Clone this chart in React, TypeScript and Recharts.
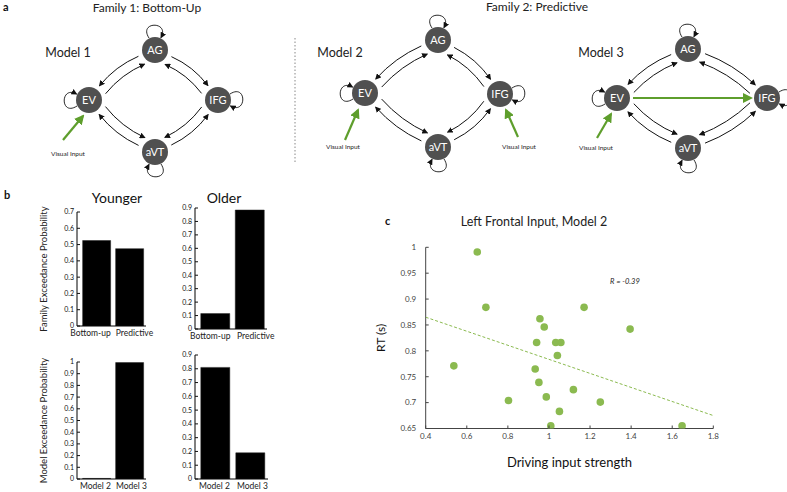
import { BarChart, Bar, XAxis, YAxis, ScatterChart, Scatter, ReferenceDot, Label } from 'recharts';

// panel b
const FAMILY_CATS = ['Bottom-up', 'Predictive'];
const MODEL_CATS = ['Model 2', 'Model 3'];
const YOUNG_FAMILY = [0.525, 0.475];
const OLD_FAMILY = [0.115, 0.885];
const YOUNG_MODEL = [0.005, 0.995];
const OLD_MODEL = [0.81, 0.19];
const TICKS_07 = [0, 0.1, 0.2, 0.3, 0.4, 0.5, 0.6, 0.7];
const TICKS_09 = [0, 0.1, 0.2, 0.3, 0.4, 0.5, 0.6, 0.7, 0.8, 0.9];
const TICKS_10 = [0, 0.1, 0.2, 0.3, 0.4, 0.5, 0.6, 0.7, 0.8, 0.9, 1];

// panel c
const DRIVE = [0.693, 0.651, 0.537, 0.803, 0.956, 0.977, 0.94, 1.033, 1.058, 1.041, 0.933, 0.951, 0.987, 1.119, 1.051, 1.009, 1.171, 1.25, 1.395, 1.648];
const RT = [0.884, 0.991, 0.771, 0.704, 0.862, 0.846, 0.816, 0.816, 0.816, 0.791, 0.765, 0.739, 0.711, 0.725, 0.683, 0.655, 0.884, 0.701, 0.842, 0.655];
const FIT_X = [0.4, 1.8];
const FIT_Y = [0.865, 0.675];
const X_TICKS = [0.4, 0.6, 0.8, 1, 1.2, 1.4, 1.6, 1.8];
const Y_TICKS = [0.65, 0.7, 0.75, 0.8, 0.85, 0.9, 0.95, 1];

// panel a layouts
const MODEL1_NODES = [
  { id: 'AG', x: 155, y: 50, loop: 0 },
  { id: 'EV', x: 89, y: 100, loop: -90 },
  { id: 'IFG', x: 218, y: 100, loop: 90 },
  { id: 'aVT', x: 155, y: 152, loop: 180 },
];
const MODEL2_NODES = [
  { id: 'AG', x: 438, y: 40, loop: 0 },
  { id: 'EV', x: 365, y: 93, loop: -90 },
  { id: 'IFG', x: 500, y: 94, loop: 90 },
  { id: 'aVT', x: 438, y: 147, loop: 180 },
];
const MODEL3_NODES = [
  { id: 'AG', x: 688, y: 49, loop: 0 },
  { id: 'EV', x: 617, y: 98, loop: -90 },
  { id: 'IFG', x: 767, y: 98, loop: 90 },
  { id: 'aVT', x: 688, y: 148, loop: 180 },
];
const EDGES = [['AG', 'EV'], ['AG', 'IFG'], ['aVT', 'IFG'], ['aVT', 'EV']];

const FONT = 'Lato, "Open Sans", sans-serif';
const GREEN = '#8BBA50';
const NODE_R = 13;

const fmt = (v: number) => String(v);

const InTickY = ({ x, y, payload, gap = 3, size = 7, color = '#111' }: any) => (
  <g>
    <line x1={x + gap} x2={x + gap + 3} y1={y} y2={y} stroke={color} />
    <text x={x} y={y} dy={size * 0.35} textAnchor="end" fontSize={size} fill={color} fontFamily={FONT}>
      {fmt(payload.value)}
    </text>
  </g>
);

const InTickX = ({ x, y, payload, gap = 4, size = 8, color = '#444' }: any) => (
  <g>
    <line x1={x} x2={x} y1={y - gap} y2={y - gap - 3} stroke={color} />
    <text x={x} y={y} dy={size * 0.8} textAnchor="middle" fontSize={size} fill={color} fontFamily={FONT}>
      {fmt(payload.value)}
    </text>
  </g>
);

const CatTick = ({ x, y, payload, index, shifts }: any) => (
  <text x={x + (shifts ? shifts[index] : 0)} y={y} dy={7} textAnchor="middle" fontSize={8.5} fill="#222" fontFamily={FONT}>
    {payload.value}
  </text>
);

function ExPanel({ plot, cats, values, ticks, yLabel, labelX, shifts }: any) {
  const [x0, y0, x1, y1] = plot;
  const AXW = 45;
  const TOP = 8;
  const XH = 22;
  const left = x0 - AXW;
  const data = cats.map((c: string, i: number) => ({ name: c, value: values[i] }));
  return (
    <div style={{ position: 'absolute', left, top: y0 - TOP }}>
      <BarChart
        width={x1 - x0 + AXW + 14}
        height={y1 - y0 + TOP + XH}
        data={data}
        margin={{ top: TOP, right: 14, left: 0, bottom: 0 }}
        barCategoryGap="8%"
      >
        <XAxis
          dataKey="name"
          height={XH}
          tickLine={false}
          tickSize={0}
          tickMargin={3}
          interval={0}
          padding={{ left: 3, right: 0 }}
          axisLine={{ stroke: '#000' }}
          tick={<CatTick shifts={shifts} />}
        />
        <YAxis
          type="number"
          domain={[0, ticks[ticks.length - 1]]}
          ticks={ticks}
          width={AXW}
          tickSize={0}
          tickMargin={3}
          tickLine={false}
          interval={0}
          allowDataOverflow
          axisLine={{ stroke: '#000' }}
          tick={<InTickY />}
        >
          {yLabel && (
            <Label
              content={({ viewBox }: any) => {
                const tx = labelX - left;
                const ty = viewBox.y + viewBox.height / 2;
                return (
                  <text x={tx} y={ty} transform={`rotate(-90 ${tx} ${ty})`} textAnchor="middle" dominantBaseline="middle" fontSize={9.5} fill="#222" fontFamily={FONT}>
                    {yLabel}
                  </text>
                );
              }}
            />
          )}
        </YAxis>
        <Bar dataKey="value" fill="#000" stroke="#222" strokeWidth={0.5} isAnimationActive={false} />
      </BarChart>
    </div>
  );
}

function RTScatter() {
  const points = DRIVE.map((d, i) => ({ x: d, y: RT[i] }));
  const fit = FIT_X.map((d, i) => ({ x: d, y: FIT_Y[i] }));
  // plot area: x 425.7..713.3, y 247.3..428.5
  const left = 360;
  const top = 230;
  return (
    <div style={{ position: 'absolute', left, top }}>
      <ScatterChart width={370} height={245} margin={{ top: 17.3, right: 16.7, left: 0, bottom: 6.5 }}>
        <XAxis
          type="number"
          dataKey="x"
          domain={[0.4, 1.8]}
          ticks={X_TICKS}
          interval={0}
          allowDataOverflow
          height={40}
          tickSize={0}
          tickMargin={4}
          tickLine={false}
          axisLine={{ stroke: '#444' }}
          tick={<InTickX />}
        >
          <Label
            content={({ viewBox }: any) => (
              <text x={viewBox.x + viewBox.width / 2} y={viewBox.y + 38} textAnchor="middle" fontSize={13} fill="#111" fontFamily={FONT}>
                Driving input strength
              </text>
            )}
          />
        </XAxis>
        <YAxis
          type="number"
          dataKey="y"
          domain={[0.65, 1]}
          ticks={Y_TICKS}
          interval={0}
          allowDataOverflow
          width={65.7}
          tickSize={0}
          tickMargin={9.5}
          tickLine={false}
          axisLine={{ stroke: '#444' }}
          tick={<InTickY gap={9.5} size={8} color="#444" />}
        >
          <Label
            content={({ viewBox }: any) => {
              const tx = viewBox.x + 21.7;
              const ty = viewBox.y + viewBox.height / 2;
              return (
                <text x={tx} y={ty} transform={`rotate(-90 ${tx} ${ty})`} textAnchor="middle" dominantBaseline="middle" fontSize={12} fill="#111" fontFamily={FONT}>
                  RT (s)
                </text>
              );
            }}
          />
        </YAxis>
        <Scatter
          data={fit}
          line={{ stroke: GREEN, strokeWidth: 1, strokeDasharray: '3 2' }}
          shape={() => <g />}
          isAnimationActive={false}
        />
        <Scatter
          data={points}
          isAnimationActive={false}
          shape={(p: any) => <circle cx={p.cx} cy={p.cy} r={3.8} fill={GREEN} />}
        />
        <ReferenceDot
          x={1.37}
          y={0.935}
          r={0}
          fill="none"
          stroke="none"
          label={{ value: 'R = -0.39', fontSize: 7.5, fontStyle: 'italic', fill: '#222', fontFamily: FONT, position: 'center' }}
        />
      </ScatterChart>
    </div>
  );
}

function Network({ nodes, boost }: any) {
  const pos: any = Object.fromEntries(nodes.map((n: any) => [n.id, n]));
  const cx = nodes.reduce((s: number, n: any) => s + n.x, 0) / nodes.length;
  const cy = nodes.reduce((s: number, n: any) => s + n.y, 0) / nodes.length;

  const curve = (a: any, b: any, side: number, nx: number, ny: number) => {
    const dx = b.x - a.x;
    const dy = b.y - a.y;
    const L = Math.hypot(dx, dy);
    const ux = dx / L;
    const uy = dy / L;
    const off = 5 * side;
    const sx = a.x + ux * (NODE_R + 4) + nx * off;
    const sy = a.y + uy * (NODE_R + 4) + ny * off;
    const ex = b.x - ux * (NODE_R + 4) + nx * off;
    const ey = b.y - uy * (NODE_R + 4) + ny * off;
    const qx = (sx + ex) / 2 + nx * 6;
    const qy = (sy + ey) / 2 + ny * 6;
    return `M${sx},${sy} Q${qx},${qy} ${ex},${ey}`;
  };

  return (
    <g>
      {EDGES.map(([fa, fb], i) => {
        const a = pos[fa];
        const b = pos[fb];
        const dx = b.x - a.x;
        const dy = b.y - a.y;
        const L = Math.hypot(dx, dy);
        let nx = -dy / L;
        let ny = dx / L;
        const mx = (a.x + b.x) / 2 - cx;
        const my = (a.y + b.y) / 2 - cy;
        if (nx * mx + ny * my < 0) {
          nx = -nx;
          ny = -ny;
        }
        return (
          <g key={i}>
            <path d={curve(a, b, 1, nx, ny)} fill="none" stroke="#111" strokeWidth={1} markerEnd="url(#arrowBlack)" />
            <path d={curve(b, a, -1, nx, ny)} fill="none" stroke="#111" strokeWidth={1} markerEnd="url(#arrowBlack)" />
          </g>
        );
      })}
      {nodes.map((n: any) => (
        <g key={n.id}>
          <g transform={`translate(${n.x},${n.y}) rotate(${n.loop})`}>
            <path
              d={`M-6,${-(NODE_R - 1)} C-17,${-(NODE_R + 16)} 15,${-(NODE_R + 16)} 6,${-(NODE_R - 0.5)}`}
              fill="none"
              stroke="#111"
              strokeWidth={0.9}
              markerEnd="url(#arrowBlack)"
            />
          </g>
          <circle cx={n.x} cy={n.y} r={NODE_R} fill="#505050" />
          <text x={n.x} y={n.y} dy={4} textAnchor="middle" fontSize={11} fill="#fff" fontFamily={FONT}>
            {n.id}
          </text>
        </g>
      ))}
      {boost && (
        <line
          x1={pos.EV.x + NODE_R + 3}
          y1={pos.EV.y}
          x2={pos.IFG.x - NODE_R - 3}
          y2={pos.IFG.y}
          stroke="#5E9E2C"
          strokeWidth={2.2}
          markerEnd="url(#arrowGreen)"
        />
      )}
    </g>
  );
}

const VisualInput = ({ x1, y1, x2, y2, tx, ty }: any) => (
  <g>
    <line x1={x1} y1={y1} x2={x2} y2={y2} stroke="#5E9E2C" strokeWidth={2.2} markerEnd="url(#arrowGreen)" />
    <text x={tx} y={ty} textAnchor="middle" fontSize={6.5} fill="#222" fontFamily={FONT}>
      Visual Input
    </text>
  </g>
);

export default function App() {
  return (
    <div style={{ position: 'absolute', left: 0, top: 0, width: 787, height: 492, background: '#fff', fontFamily: FONT, overflow: 'hidden' }}>
      <ExPanel plot={[77, 212, 146, 326]} cats={FAMILY_CATS} values={YOUNG_FAMILY} ticks={TICKS_07} yLabel="Family Exceedance Probability" labelX={45} shifts={[-6, 5]} />
      <ExPanel plot={[195, 208, 267, 329]} cats={FAMILY_CATS} values={OLD_FAMILY} ticks={TICKS_09} shifts={[-5, 6]} />
      <ExPanel plot={[77, 362, 146, 479]} cats={MODEL_CATS} values={YOUNG_MODEL} ticks={TICKS_10} yLabel="Model Exceedance Probability" labelX={45} shifts={[-1, 2]} />
      <ExPanel plot={[195, 355, 268, 479]} cats={MODEL_CATS} values={OLD_MODEL} ticks={TICKS_09} shifts={[-1, 2]} />
      <RTScatter />

      <svg width={787} height={492} style={{ position: 'absolute', left: 0, top: 0, pointerEvents: 'none' }}>
        <defs>
          <marker id="arrowBlack" markerWidth={6} markerHeight={6} refX={5} refY={3} orient="auto" markerUnits="userSpaceOnUse">
            <path d="M0,0 L6,3 L0,6 z" fill="#111" />
          </marker>
          <marker id="arrowGreen" markerWidth={10} markerHeight={10} refX={8} refY={5} orient="auto" markerUnits="userSpaceOnUse">
            <path d="M0,0 L10,5 L0,10 z" fill="#5E9E2C" />
          </marker>
        </defs>

        <text x={3} y={11} fontSize={11} fontWeight="bold" fill="#111" fontFamily={FONT}>a</text>
        <text x={4} y={199} fontSize={11} fontWeight="bold" fill="#111" fontFamily={FONT}>b</text>
        <text x={385} y={225} fontSize={11} fontWeight="bold" fill="#111" fontFamily={FONT}>c</text>

        <text x={147} y={12} textAnchor="middle" fontSize={12} fill="#222" fontFamily={FONT}>Family 1: Bottom-Up</text>
        <text x={537} y={11} textAnchor="middle" fontSize={12} fill="#222" fontFamily={FONT}>Family 2: Predictive</text>
        <line x1={295} y1={38} x2={295} y2={162} stroke="#888" strokeWidth={1} strokeDasharray="1.5 2" />

        <text x={68} y={57} textAnchor="middle" fontSize={12.5} fill="#222" fontFamily={FONT}>Model 1</text>
        <text x={340} y={57} textAnchor="middle" fontSize={12.5} fill="#222" fontFamily={FONT}>Model 2</text>
        <text x={601} y={57} textAnchor="middle" fontSize={12.5} fill="#222" fontFamily={FONT}>Model 3</text>

        <Network nodes={MODEL1_NODES} />
        <Network nodes={MODEL2_NODES} />
        <Network nodes={MODEL3_NODES} boost />

        <VisualInput x1={63} y1={140} x2={83} y2={116} tx={68} ty={156} />
        <VisualInput x1={345} y1={140} x2={358} y2={110} tx={343} ty={149} />
        <VisualInput x1={518} y1={137} x2={506} y2={110} tx={519} ty={149} />
        <VisualInput x1={597} y1={138} x2={611} y2={114} tx={596} ty={150} />

        <text x={117} y={203} textAnchor="middle" fontSize={14} fill="#111" fontFamily={FONT}>Younger</text>
        <text x={224} y={203} textAnchor="middle" fontSize={14} fill="#111" fontFamily={FONT}>Older</text>
        <text x={534} y={226} textAnchor="middle" fontSize={12.5} fill="#222" fontFamily={FONT}>Left Frontal Input, Model 2</text>
      </svg>
    </div>
  );
}
